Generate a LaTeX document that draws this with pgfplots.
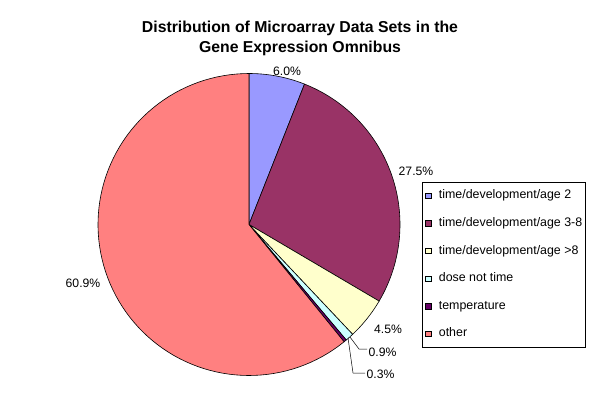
\documentclass[border=0pt]{standalone}
\usepackage{pgfplots}
\usepackage{pgfplotstable}
\usepackage{fontspec}
\setmainfont{Liberation Sans}
\pgfplotsset{compat=1.18}

\definecolor{c1}{HTML}{9999FF}
\definecolor{c2}{HTML}{993366}
\definecolor{c3}{HTML}{FFFFCC}
\definecolor{c4}{HTML}{CCFFFF}
\definecolor{c5}{HTML}{660066}
\definecolor{c6}{HTML}{FF8080}

\pgfplotstableread{
value
6.0
27.5
4.5
0.9
0.3
60.9
}\piedata

% cumulative sums (in percent) of the slices
\xdef\cumsum{0}
\foreach \i in {0,...,5}{%
  \pgfplotstablegetelem{\i}{value}\of\piedata
  \pgfmathsetmacro\tmp{\cumsum+\pgfplotsretval}%
  \expandafter\xdef\csname cum\i\endcsname{\tmp}%
  \xdef\cumsum{\tmp}%
}
\pgfmathsetmacro\total{\csname cum5\endcsname}

\def\cx{249}
\def\cy{224.5}
\def\rr{151}

\newcommand\slice[3]{% start cum, end cum, colour
  \pgfmathsetmacro\aS{90-((#1)/\total)*360}%
  \pgfmathsetmacro\aE{90-((#2)/\total)*360}%
  \addplot[fill=#3, draw=black, line width=0.6pt, domain=\aE:\aS, samples=90, variable=\t]
    ({\cx+\rr*cos(\t)}, {\cy-\rr*sin(\t)}) -- (axis cs:\cx,\cy) -- cycle;
}

\begin{document}
\begin{tikzpicture}
\begin{axis}[
  scale only axis, width=600pt, height=410pt,
  xmin=0, xmax=600, ymin=0, ymax=410, y dir=reverse,
  hide axis, clip=false,
  legend style={at={(421.7/600,1-181.7/410)}, anchor=north west,
    draw=black, line width=0.6pt, fill=white,
    font=\fontsize{12.4}{14}\selectfont,
    inner xsep=3.5pt, inner ysep=8.6pt, row sep=17.3pt,
    nodes={inner sep=0pt, text height=8.3pt, text depth=2pt},
    column sep=7.5pt},
  legend cell align=left,
  legend image code/.code={\draw[#1, draw=black, line width=0.5pt] (0pt,-2.7pt) rectangle (5.4pt,2.7pt);},
]
\addplot[draw=none, forget plot] coordinates {(0,0) (600,410)};

\slice{0}{\csname cum0\endcsname}{c1}
\slice{\csname cum0\endcsname}{\csname cum1\endcsname}{c2}
\slice{\csname cum1\endcsname}{\csname cum2\endcsname}{c3}
\slice{\csname cum2\endcsname}{\csname cum3\endcsname}{c4}
\slice{\csname cum3\endcsname}{\csname cum4\endcsname}{c5}
\slice{\csname cum4\endcsname}{\csname cum5\endcsname}{c6}
\legend{time/development/age 2, time/development/age 3-8, time/development/age >8, dose not time, temperature, other}

% leader lines
\addplot[forget plot, black, line width=0.5pt] coordinates {(350,337) (359,349) (367,349)};
\addplot[forget plot, black, line width=0.5pt] coordinates {(348,338) (353,373) (365,373)};

% title
\node[font=\fontsize{15.8}{20}\selectfont\bfseries, align=center, anchor=base]
  at (axis cs:300,52.7) {Distribution of Microarray Data Sets in the\\Gene Expression Omnibus};

% data labels
\begin{scope}[every node/.style={font=\fontsize{12.2}{14}\selectfont, anchor=base, inner sep=0pt}]
\node at (axis cs:287,75) {6.0\%};
\node at (axis cs:416,175.5) {27.5\%};
\node at (axis cs:388,333) {4.5\%};
\node at (axis cs:382.5,356) {0.9\%};
\node at (axis cs:380.5,378) {0.3\%};
\node at (axis cs:83,287) {60.9\%};
\end{scope}
\end{axis}
\end{tikzpicture}
\end{document}
